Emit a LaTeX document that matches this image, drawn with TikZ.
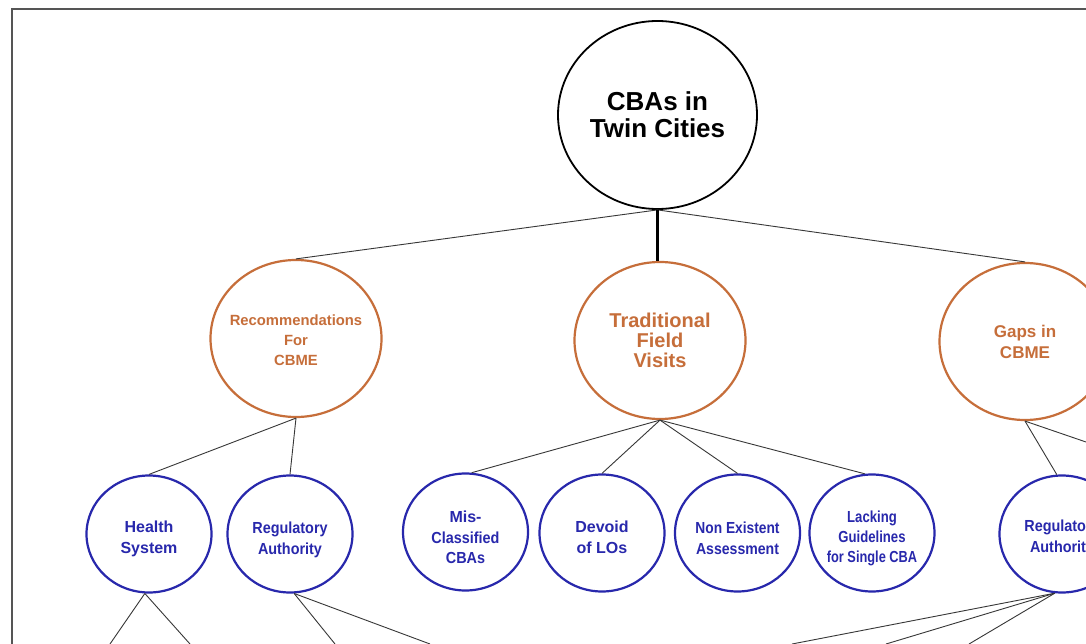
\documentclass[tikz,border=0pt]{standalone}
\usepackage{fontspec}
\setmainfont{Liberation Sans}
\usetikzlibrary{shapes.geometric}
\definecolor{orng}{RGB}{198,110,58}
\definecolor{bl}{RGB}{40,40,172}
\definecolor{ln}{RGB}{55,55,55}
\definecolor{frm}{RGB}{85,85,85}
\newcommand{\sqz}[2]{\scalebox{#1}[1]{#2}}
\begin{document}
\begin{tikzpicture}[x=1pt,y=-1pt,
  rootc/.style={ellipse, draw=black, line width=1.8pt, minimum width=199pt, minimum height=188pt,
    inner sep=-30pt, align=center, font=\bfseries\fontsize{26}{27}\selectfont},
  midc/.style={ellipse, draw=orng, line width=2.2pt, minimum width=171pt, minimum height=157pt, inner sep=0pt},
  midt/.style={align=center, text=orng, inner sep=0pt},
  leafc/.style={ellipse, draw=bl, line width=2.2pt, minimum width=125pt, minimum height=117pt, inner sep=0pt},
  leaft/.style={align=center, text=bl, inner sep=0pt, font=\bfseries\fontsize{16}{21}\selectfont},
  conn/.style={draw=ln, line width=0.9pt},
  thickconn/.style={draw=black, line width=2.6pt},
  frame/.style={draw=frm, line width=1.6pt}
]
\useasboundingbox (0,0) rectangle (1086,644);
\clip (0,0) rectangle (1086,644);
\fill[white] (0,0) rectangle (1086,644);
\draw[frame] (12,660) -- (12,9) -- (1100,9);

% shapes
\node[rootc] (root) at (657.5,115) {CBAs in\\Twin Cities};
\node[midc] (rec) at (296,338.5) {};
\node[midc] (trad) at (660,340.5) {};
\node[midc] (gaps) at (1025,341.5) {};

\node[leafc] (health) at (149,534) {};
\node[leafc] (regL) at (290,534) {};
\node[leafc] (mis) at (465.5,532) {};
\node[leafc] (devoid) at (602,533) {};
\node[leafc] (nonex) at (737.5,533) {};
\node[leafc] (lack) at (872,533) {};
\node[leafc] (regR) at (1062,534) {};

% texts
\node[midt, font=\bfseries\fontsize{14.8}{20}\selectfont] (recT) at (296,340.5) {Recommendations\\For\\CBME};
\node[midt, font=\bfseries\fontsize{20}{20}\selectfont] (tradT) at (660,340.5) {Traditional\\Field\\Visits};
\node[midt, font=\bfseries\fontsize{17}{21}\selectfont] (gapsT) at (1025,341.5) {Gaps in\\CBME};

\node[leaft] (healthT) at (149,539) {Health\\System};
\node[leaft] (regLT) at (290,539.5) {\sqz{0.9}{Regulatory}\\\sqz{0.9}{Authority}};
\node[leaft, font=\bfseries\fontsize{16}{20.5}\selectfont] (misT) at (465.5,537.5) {Mis-\\\sqz{0.9}{Classified}\\\sqz{0.9}{CBAs}};
\node[leaft] (devoidT) at (602,537) {Devoid\\of LOs};
\node[leaft] (nonexT) at (737.5,538) {\sqz{0.86}{Non Existent}\\\sqz{0.88}{Assessment}};
\node[leaft, font=\bfseries\fontsize{16}{20}\selectfont] (lackT) at (872,538) {\sqz{0.82}{Lacking}\\\sqz{0.82}{Guidelines}\\\sqz{0.8}{for Single CBA}};
\node[leaft] (regRT) at (1062,538) {\sqz{0.9}{Regulatory}\\\sqz{0.9}{Authority}};

% free ends
\coordinate (g1) at (1086,442);
\coordinate (h1) at (110,644);
\coordinate (h2) at (190,644);
\coordinate (r1) at (335,644);
\coordinate (r2) at (430,644);
\coordinate (q1) at (792,644);
\coordinate (q2) at (886,644);
\coordinate (q3) at (969,644);

% connectors
\draw[conn] (root.south) -- (rec.north);
\draw[conn] (root.south) -- (gaps.north);
\draw[thickconn] (root.south) -- (root.south |- trad.north);

\draw[conn] (rec.south) -- (health.north);
\draw[conn] (rec.south) -- (regL.north);

\draw[conn] (trad.south) -- (mis.84);
\draw[conn] (trad.south) -- (devoid.north);
\draw[conn] (trad.south) -- (nonex.north);
\draw[conn] (trad.south) -- (lack.97);

\draw[conn] (gaps.south) -- (regR.95);
\draw[conn] (gaps.south) -- (g1);

\draw[conn] (health.266) -- (h1);
\draw[conn] (health.266) -- (h2);
\draw[conn] (regL.274) -- (r1);
\draw[conn] (regL.274) -- (r2);
\draw[conn] (regR.263) -- (q1);
\draw[conn] (regR.263) -- (q2);
\draw[conn] (regR.263) -- (q3);
\end{tikzpicture}
\end{document}
